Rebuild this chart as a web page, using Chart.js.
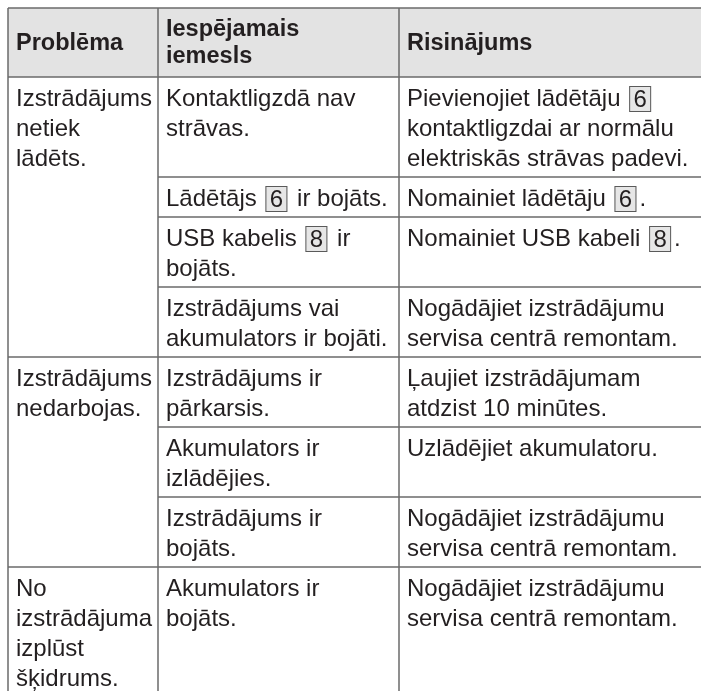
<!DOCTYPE html>
<html lang="lv">
<head>
  <meta charset="UTF-8">
  <title>Problēma / Iespējamais iemesls / Risinājums</title>
  <script src="https://cdn.jsdelivr.net/npm/chart.js"></script>
  <style>
    body, html {
      margin: 0;
      padding: 0;
      background: #ffffff;
      overflow: hidden;
    }
    .wrap {
      width: 701px;
      height: 691px;
      position: relative;
    }
  </style>
</head>
<body>
  <div class="wrap">
    <canvas id="tableChart"></canvas>
  </div>

  <script>
    // table content, "\n" = line break as in the original, [n] = boxed part number
    const headers = ["Problēma", "Iespējamais\niemesls", "Risinājums"];

    const problems = [
      "Izstrādājums\nnetiek\nlādēts.",
      "Izstrādājums\nnedarbojas.",
      "No\nizstrādājuma\nizplūst\nšķidrums."
    ];

    const causes = [
      ["Kontaktligzdā nav\nstrāvas.", "Lādētājs [6] ir bojāts.", "USB kabelis [8] ir\nbojāts.", "Izstrādājums vai\nakumulators ir bojāti."],
      ["Izstrādājums ir\npārkarsis.", "Akumulators ir\nizlādējies.", "Izstrādājums ir\nbojāts."],
      ["Akumulators ir\nbojāts."]
    ];

    const solutions = [
      ["Pievienojiet lādētāju [6]\nkontaktligzdai ar normālu\nelektriskās strāvas padevi.", "Nomainiet lādētāju [6].", "Nomainiet USB kabeli [8].", "Nogādājiet izstrādājumu\nservisa centrā remontam."],
      ["Ļaujiet izstrādājumam\natdzist 10 minūtes.", "Uzlādējiet akumulatoru.", "Nogādājiet izstrādājumu\nservisa centrā remontam."],
      ["Nogādājiet izstrādājumu\nservisa centrā remontam."]
    ];

    // layout / style
    const COL_W = [150, 241, 304];
    const HEAD_H = 69;
    const HEAD_LINE_H = 27;
    const LINE_H = 30;
    const ROW_PAD = 10;
    const TEXT_PAD = 8;
    const FONT = '24px "Liberation Sans", Arial, sans-serif';
    const FONT_BOLD = 'bold 23.5px "Liberation Sans", Arial, sans-serif';
    const TEXT_COLOR = '#231f20';
    const LINE_COLOR = '#6b6b6b';
    const HEAD_BG = '#e3e3e3';

    const nLines = s => s.split('\n').length;

    function drawRich(ctx, str, x, y) {
      const parts = str.split(/(\[\d+\])/);
      parts.forEach(part => {
        if (!part) return;
        const m = part.match(/^\[(\d+)\]$/);
        if (m) {
          const w = 22, h = 26;
          ctx.save();
          ctx.fillStyle = '#e6e6e6';
          ctx.fillRect(x + 2, y - h / 2, w, h);
          ctx.strokeStyle = '#5a5a5a';
          ctx.lineWidth = 1;
          ctx.strokeRect(x + 2.5, y - h / 2 + 0.5, w - 1, h - 1);
          ctx.fillStyle = TEXT_COLOR;
          ctx.textAlign = 'center';
          ctx.fillText(m[1], x + 2 + w / 2, y + 1);
          ctx.restore();
          x += w + 5;
        } else {
          ctx.fillText(part, x, y);
          x += ctx.measureText(part).width;
        }
      });
    }

    const tablePlugin = {
      id: 'tablePlugin',
      afterDraw(chart) {
        const ctx = chart.ctx;
        const xs = chart.scales.x, ys = chart.scales.y;
        const colEdges = [0];
        COL_W.forEach(w => colEdges.push(colEdges[colEdges.length - 1] + w));
        const px = v => xs.getPixelForValue(v);
        const py = v => ys.getPixelForValue(v);
        const left = px(colEdges[0]), right = px(colEdges[3]);

        ctx.save();
        ctx.textBaseline = 'middle';
        ctx.textAlign = 'left';

        // header
        ctx.fillStyle = HEAD_BG;
        ctx.fillRect(left, py(0), right - left, py(HEAD_H) - py(0));
        ctx.fillStyle = TEXT_COLOR;
        ctx.font = FONT_BOLD;
        headers.forEach((h, c) => {
          const lines = h.split('\n');
          const top = HEAD_H / 2 - (lines.length * HEAD_LINE_H) / 2;
          lines.forEach((ln, k) => {
            ctx.fillText(ln, px(colEdges[c]) + TEXT_PAD, py(top + HEAD_LINE_H * (k + 0.5)) + 1);
          });
        });

        const hLines = [];   // [y, fromCol]
        let y = HEAD_H;
        hLines.push([0, 0]);
        hLines.push([HEAD_H, 0]);

        ctx.font = FONT;
        problems.forEach((prob, g) => {
          const subH = causes[g].map((c, i) =>
            Math.max(nLines(c), nLines(solutions[g][i])) * LINE_H + ROW_PAD);
          const probH = nLines(prob) * LINE_H + ROW_PAD;
          const sum = subH.reduce((a, b) => a + b, 0);
          if (probH > sum) subH[subH.length - 1] += probH - sum;
          const groupTop = y;

          prob.split('\n').forEach((ln, k) => {
            drawRich(ctx, ln, px(colEdges[0]) + TEXT_PAD, py(groupTop + ROW_PAD / 2 + LINE_H * (k + 0.5)) + 2);
          });

          causes[g].forEach((cause, i) => {
            const cells = [cause, solutions[g][i]];
            cells.forEach((txt, c) => {
              txt.split('\n').forEach((ln, k) => {
                drawRich(ctx, ln, px(colEdges[c + 1]) + TEXT_PAD, py(y + ROW_PAD / 2 + LINE_H * (k + 0.5)) + 2);
              });
            });
            y += subH[i];
            hLines.push([y, i === causes[g].length - 1 ? 0 : 1]);
          });
        });

        // grid
        ctx.strokeStyle = LINE_COLOR;
        ctx.lineWidth = 1.5;
        ctx.beginPath();
        hLines.forEach(([v, from]) => {
          ctx.moveTo(px(colEdges[from]), py(v));
          ctx.lineTo(right, py(v));
        });
        colEdges.forEach(cx => {
          ctx.moveTo(px(cx), py(0));
          ctx.lineTo(px(cx), py(y));
        });
        ctx.stroke();
        ctx.restore();
      }
    };

    new Chart(document.getElementById('tableChart'), {
      type: 'scatter',
      data: { datasets: [] },
      options: {
        responsive: true,
        maintainAspectRatio: false,
        animation: false,
        layout: { padding: { left: 8, top: 8, right: 0, bottom: 0 } },
        plugins: { legend: { display: false }, tooltip: { enabled: false } },
        scales: {
          x: { type: 'linear', min: 0, max: 693, display: false },
          y: { type: 'linear', min: 0, max: 683, reverse: true, display: false }
        }
      },
      plugins: [tablePlugin]
    });
  </script>
</body>
</html>
